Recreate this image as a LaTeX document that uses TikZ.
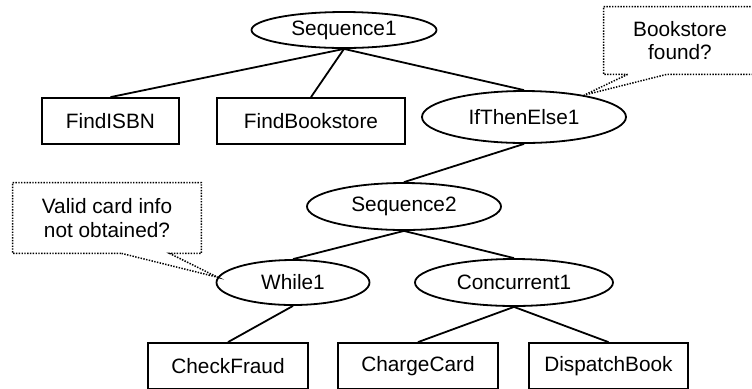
\documentclass[tikz,border=0pt]{standalone}
\usepackage{fontspec}
\setmainfont{Liberation Sans}
\usetikzlibrary{shapes.geometric, calc}

\begin{document}
\begin{tikzpicture}[
	x=0.5pt, y=-0.5pt,
	font=\fontsize{10.4}{11.8}\selectfont,
	box/.style={
		draw,
		line width=0.9pt,
		minimum height=23pt,
		inner sep=0pt
	},
	oval/.style={draw, ellipse, line width=0.9pt, inner sep=0pt},
	note/.style={align=center, inner sep=0pt},
	link/.style={line width=0.9pt},
	dots/.style={line width=0.75pt, dash pattern=on 0.7pt off 0.7pt}
	]
	\useasboundingbox (0,0) rectangle (752,388);
	
	\node[oval, minimum width=92.5pt, minimum height=18pt] (seq1) at (344,30) {Sequence1};
	\node[box, minimum width=68.5pt] (isbn) at (110.5,121) {FindISBN};
	\node[box, minimum width=94pt] (store) at (311,121) {FindBookstore};
	\node[oval, minimum width=102pt, minimum height=26pt] (ite) at (524,117) {IfThenElse1};
	\node[oval, minimum width=97pt, minimum height=23.5pt] (seq2) at (404,206.5) {Sequence2};
	\node[oval, minimum width=76.5pt, minimum height=22.5pt] (loop) at (293,282.5) {While1};
	\node[oval, minimum width=99pt, minimum height=23.5pt] (conc) at (514,282.5) {Concurrent1};
	\node[box, minimum width=80pt] (fraud) at (228,366) {CheckFraud};
	\node[box, minimum width=80pt] (charge) at (418,366) {ChargeCard};
	\node[box, minimum width=79.5pt] (dispatch) at (608.5,366) {DispatchBook};
	
	% conditions
	\node[note, minimum width=76pt, minimum height=33.5pt] (qstore) at (680,40.5) {Bookstore\\found?};
	\node[note, minimum width=94pt, minimum height=35pt] (qcard) at (107,218) {Valid card info\\not obtained?};
	
	\draw[link] (seq1.south) -- (isbn.north);
	\draw[link] (seq1.south) -- (store.north);
	\draw[link] (seq1.south) -- (ite.north);
	\draw[link] (ite.south) -- (seq2.north);
	\draw[link] (seq2.south) -- (loop.north);
	\draw[link] (seq2.south) -- (conc.north);
	\draw[link] (loop.south) -- (fraud.north);
	\draw[link] (conc.south) -- (charge.north);
	\draw[link] (conc.south) -- (dispatch.north);
	
	\draw[dots] ($(qstore.south west)+(24,0)$) -- (ite.20) -- ($(qstore.south west)+(63,0)$)
		-- (qstore.south east) -- (qstore.north east) -- (qstore.north west) -- (qstore.south west) -- cycle;
	\draw[dots] ($(qcard.south west)+(109,0)$) -- (loop.176) -- ($(qcard.south west)+(157,0)$)
		-- (qcard.south east) -- (qcard.north east) -- (qcard.north west) -- (qcard.south west) -- cycle;
	
\end{tikzpicture}
\end{document}
